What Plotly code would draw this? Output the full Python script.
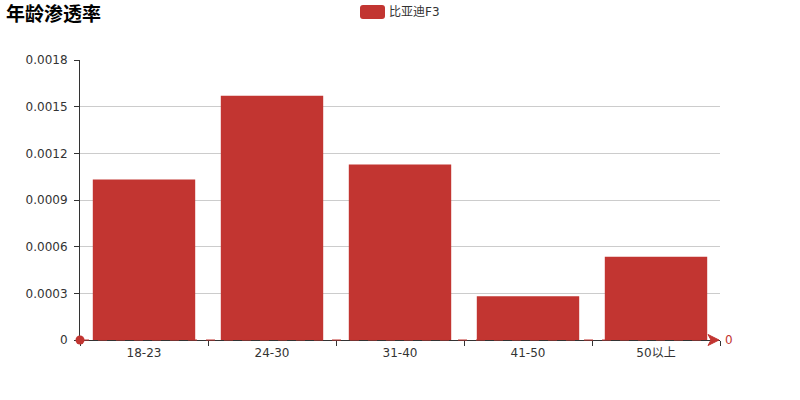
import plotly.graph_objects as go

title_text = "年龄渗透率"
series_name = "比亚迪F3"
categories = ["18-23", "24-30", "31-40", "41-50", "50以上"]
values = [0.001032, 0.001570, 0.001128, 0.000282, 0.000535]
y_tickvals = [0, 0.0003, 0.0006, 0.0009, 0.0012, 0.0015, 0.0018]
y_ticktext = ["0", "0.0003", "0.0006", "0.0009", "0.0012", "0.0015", "0.0018"]
y_range = [0, 0.0018]
markline_value = 0
markline_label = "0"

RED = "#c23531"
FONT = "DejaVu Sans, Noto Sans CJK SC, sans-serif"

W, H = 800, 400
L, R, T, B = 80, 80, 60, 60
PW, PH = W - L - R, H - T - B

def px_x(p):
    return (p - L) / PW

def px_y(p):
    return (H - B - p) / PH

mark_y = (markline_value - y_range[0]) / (y_range[1] - y_range[0])

fig = go.Figure()
fig.add_trace(go.Bar(
    x=categories, y=values, name=series_name,
    marker=dict(color=RED, line=dict(width=0)),
    showlegend=False, hoverinfo="skip",
))

shapes = []
annotations = []

# markLine (dashed) at value
shapes.append(dict(type="line", xref="paper", yref="paper",
                   x0=0, x1=px_x(712), y0=mark_y, y1=mark_y,
                   line=dict(color=RED, width=1, dash="dash"), layer="above"))
# start circle
shapes.append(dict(type="circle", xref="paper", yref="paper",
                   xsizemode="pixel", ysizemode="pixel",
                   xanchor=0, yanchor=mark_y,
                   x0=-4.5, x1=4.5, y0=-4.5, y1=4.5,
                   fillcolor=RED, line=dict(color=RED, width=0), layer="above"))
# end arrow
xa = px_x(720)
shapes.append(dict(type="path", xref="paper", yref="paper",
                   xsizemode="pixel", ysizemode="pixel",
                   xanchor=xa, yanchor=mark_y,
                   path="M -12,-5.5 L -1,0 L -12,5.5 L -9,0 Z",
                   fillcolor=RED, line=dict(color=RED, width=1), layer="above"))
annotations.append(dict(text=markline_label, xref="paper", yref="paper",
                        x=px_x(723), y=mark_y, xanchor="left", yanchor="middle",
                        showarrow=False, font=dict(color=RED, size=12, family=FONT)))

# title
annotations.append(dict(text="<b>" + title_text + "</b>", xref="paper", yref="paper",
                        x=px_x(4), y=px_y(14), xanchor="left", yanchor="middle",
                        showarrow=False, font=dict(color="#000", size=19, family=FONT)))

# legend (ECharts style rounded rect)
x0, x1 = px_x(360), px_x(385)
y0, y1 = px_y(19), px_y(5)
rx = 3 / PW
ry = 3 / PH
path = (f"M {x0+rx},{y0} L {x1-rx},{y0} Q {x1},{y0} {x1},{y0+ry} "
        f"L {x1},{y1-ry} Q {x1},{y1} {x1-rx},{y1} L {x0+rx},{y1} "
        f"Q {x0},{y1} {x0},{y1-ry} L {x0},{y0+ry} Q {x0},{y0} {x0+rx},{y0} Z")
shapes.append(dict(type="path", xref="paper", yref="paper", path=path,
                   fillcolor=RED, line=dict(width=0)))
annotations.append(dict(text=series_name, xref="paper", yref="paper",
                        x=px_x(387), y=px_y(12), xanchor="left", yanchor="middle",
                        showarrow=False, font=dict(color="#333", size=12, family=FONT)))

fig.update_layout(
    width=W, height=H,
    margin=dict(l=L, r=R, t=T, b=B, autoexpand=False),
    paper_bgcolor="white", plot_bgcolor="white",
    bargap=0.2,
    showlegend=False,
    font=dict(family=FONT, size=12, color="#333"),
    shapes=shapes, annotations=annotations,
    xaxis=dict(
        type="category", showline=True, linecolor="#333", linewidth=1,
        ticks="outside", tickson="boundaries", ticklen=5, tickcolor="#333",
        ticklabelstandoff=2,
        showgrid=False, zeroline=False, tickfont=dict(size=12, color="#333", family=FONT),
        fixedrange=True,
    ),
    yaxis=dict(
        range=y_range, tickvals=y_tickvals, ticktext=y_ticktext,
        showline=True, linecolor="#333", linewidth=1,
        ticks="outside", ticklen=5, tickcolor="#333",
        ticklabelstandoff=4,
        showgrid=True, gridcolor="#ccc", gridwidth=1, zeroline=False,
        tickfont=dict(size=12, color="#333", family=FONT),
        fixedrange=True,
    ),
)

fig.write_html("out.html", config={"displayModeBar": False},
               post_script="document.body.style.margin='0';document.body.style.overflow='hidden';")
